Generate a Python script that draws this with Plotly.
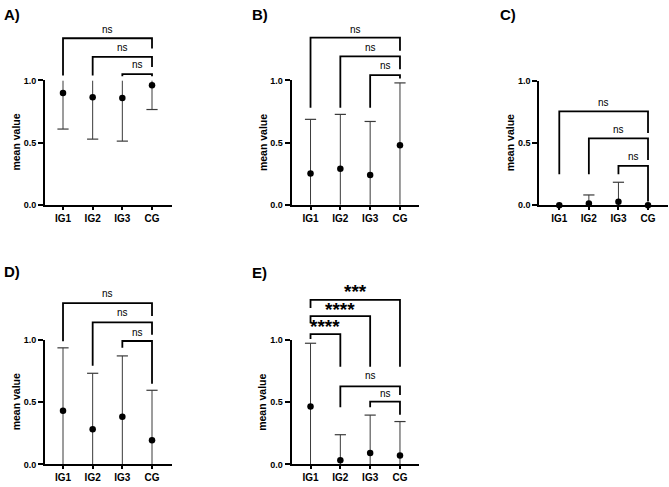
import plotly.graph_objects as go

# ---------------- data ----------------
categories = ["IG1", "IG2", "IG3", "CG"]
panel_labels = ["A)", "B)", "C)", "D)", "E)"]

mean_A = [0.898, 0.864, 0.858, 0.961]
sd_A = [0.289, 0.336, 0.346, 0.195]

mean_B = [0.252, 0.289, 0.239, 0.478]
sd_B = [0.435, 0.438, 0.431, 0.502]

mean_C = [0.0, 0.014, 0.028, 0.0]
sd_C = [0.0, 0.069, 0.157, 0.0]

mean_D = [0.432, 0.282, 0.384, 0.195]
sd_D = [0.507, 0.452, 0.490, 0.402]

mean_E = [0.466, 0.034, 0.092, 0.071]
sd_E = [0.510, 0.205, 0.305, 0.274]

y_tick_vals = [0.0, 0.5, 1.0]
y_tick_text = ["0.0", "0.5", "1.0"]
y_title = "mean value"

# significance comparisons: (group a, group b, label)
comparisons_A = [("IG1", "CG", "ns"), ("IG2", "CG", "ns"), ("IG3", "CG", "ns")]
comparisons_B = [("IG1", "CG", "ns"), ("IG2", "CG", "ns"), ("IG3", "CG", "ns")]
comparisons_C = [("IG1", "CG", "ns"), ("IG2", "CG", "ns"), ("IG3", "CG", "ns")]
comparisons_D = [("IG1", "CG", "ns"), ("IG2", "CG", "ns"), ("IG3", "CG", "ns")]
comparisons_E = [("IG1", "CG", "***"), ("IG1", "IG3", "****"), ("IG1", "IG2", "****"),
                 ("IG2", "CG", "ns"), ("IG3", "CG", "ns")]

# ---------------- layout config ----------------
W, H = 669, 487
FONT = "Liberation Sans, Arial, Helvetica, sans-serif"

# bracket geometry per comparison: (height, left leg bottom, right leg bottom, label y)
geom = {
    "A": [(1.339, 1.04, 1.257, 1.41), (1.189, 1.04, 1.108, 1.265), (1.05, 1.034, 1.034, 1.126)],
    "B": [(1.344, 0.78, 1.239, 1.41), (1.194, 0.78, 1.089, 1.265), (1.042, 0.78, 1.016, 1.116)],
    "C": [(0.754, 0.25, 0.58, 0.827), (0.537, 0.25, 0.364, 0.607), (0.317, 0.25, 0.03, 0.389)],
    "D": [(1.30, 0.992, 1.195, 1.373), (1.144, 0.795, 1.044, 1.223), (0.994, 0.94, 0.65, 1.065)],
    "E": [(1.326, 1.26, 0.787, 1.39), (1.194, 1.137, 0.787, 1.25), (1.05, 1.01, 0.787, 1.108),
          (0.629, 0.46, 0.558, 0.716), (0.505, 0.46, 0.40, 0.571)],
}

# pixel layout: (axis left/right px, y0/y1 px, x range, title pos)
panels = [
    ("A", mean_A, sd_A, comparisons_A, (45, 172), (204, 77), (-0.607, 3.674), (2, 10)),
    ("B", mean_B, sd_B, comparisons_B, (291.5, 419), (204, 77), (-0.638, 3.638), (250, 10)),
    ("C", mean_C, sd_C, comparisons_C, (539.3, 668), (204.5, 77.3), (-0.676, 3.676), (498, 10)),
    ("D", mean_D, sd_D, comparisons_D, (45, 172), (469, 342.3), (-0.607, 3.674), (2, 272)),
    ("E", mean_E, sd_E, comparisons_E, (291.5, 419), (469, 342.3), (-0.638, 3.638), (250, 273)),
]

fig = go.Figure()
shapes = []
annotations = []
layout_axes = {}

xpos = list(range(len(categories)))
cat_index = {c: i for i, c in enumerate(categories)}

for k, (name, means, sds, comps, (xl, xr), (ypx0, ypx1), xrng, (tx, ty)) in enumerate(panels, start=1):
    xa = "x" if k == 1 else f"x{k}"
    ya = "y" if k == 1 else f"y{k}"
    sfx = "" if k == 1 else str(k)

    layout_axes[f"xaxis{sfx}"] = dict(
        domain=[xl / W, xr / W], range=list(xrng), anchor=ya,
        tickvals=xpos, ticktext=categories, showline=True, linecolor="black",
        linewidth=2, ticks="outside", ticklen=3, tickwidth=1.5, tickcolor="black",
        showgrid=False, zeroline=False, fixedrange=True,
        tickfont=dict(family=FONT, size=10, color="black", weight="bold"),
    )
    layout_axes[f"yaxis{sfx}"] = dict(
        domain=[1 - ypx0 / H, 1 - ypx1 / H], range=[0, 1], anchor=xa,
        tickvals=y_tick_vals, ticktext=y_tick_text, showline=True, linecolor="black",
        linewidth=2, ticks="outside", ticklen=5, tickwidth=1.5, tickcolor="black",
        showgrid=False, zeroline=False, fixedrange=True,
        tickfont=dict(family=FONT, size=9, color="black", weight="bold"),
    )

    # error bars (mean ± SD, clipped to the axis range)
    ex, ey, cx, cy = [], [], [], []
    for i, (m, s) in enumerate(zip(means, sds)):
        lo, hi = max(0.0, m - s), min(1.0, m + s)
        if s > 0:
            ex += [xpos[i], xpos[i], None]
            ey += [lo, hi, None]
            if m + s <= 1.0:
                cx.append(xpos[i]); cy.append(hi)
            if m - s >= 0.0:
                cx.append(xpos[i]); cy.append(lo)
    fig.add_trace(go.Scatter(x=ex, y=ey, mode="lines", xaxis=xa, yaxis=ya,
                             line=dict(color="#3a3a3a", width=1), showlegend=False,
                             hoverinfo="skip"))
    fig.add_trace(go.Scatter(x=cx, y=cy, mode="markers", xaxis=xa, yaxis=ya,
                             marker=dict(symbol="line-ew", size=8,
                                         line=dict(color="#3a3a3a", width=1.2)),
                             showlegend=False, hoverinfo="skip", cliponaxis=False))
    fig.add_trace(go.Scatter(x=xpos, y=means, mode="markers", xaxis=xa, yaxis=ya,
                             marker=dict(color="black", size=6.5), showlegend=False,
                             cliponaxis=False))

    # significance brackets
    for (a, b, lab), (h, lb, rb, ly) in zip(comps, geom[name]):
        i1, i2 = cat_index[a], cat_index[b]
        shapes.append(dict(type="path", xref=xa, yref=f"{ya} domain",
                           path=f"M {i1},{lb} L {i1},{h} L {i2},{h} L {i2},{rb}",
                           line=dict(color="black", width=1.8)))
        star = lab != "ns"
        annotations.append(dict(
            x=(i1 + i2) / 2, y=ly, xref=xa, yref=f"{ya} domain", text=lab,
            showarrow=False, xanchor="center", yanchor="middle",
            font=dict(family=FONT, size=19 if star else 10, color="black",
                      weight="bold" if star else "normal")))

    # y-axis title
    annotations.append(dict(
        x=0, y=0.5, xref=f"{xa} domain", yref=f"{ya} domain", xshift=-29,
        text=y_title, textangle=-90, showarrow=False, xanchor="center", yanchor="middle",
        font=dict(family=FONT, size=10.5, color="black", weight="bold")))

    # panel label
    annotations.append(dict(
        x=tx / W, y=1 - ty / H, xref="paper", yref="paper", text=panel_labels[k - 1],
        showarrow=False, xanchor="left", yanchor="middle",
        font=dict(family=FONT, size=15, color="black", weight="bold")))

fig.update_layout(
    width=W, height=H, margin=dict(l=0, r=0, t=0, b=0),
    paper_bgcolor="white", plot_bgcolor="white",
    shapes=shapes, annotations=annotations, showlegend=False,
    **layout_axes,
)

fig.write_html("out.html")
